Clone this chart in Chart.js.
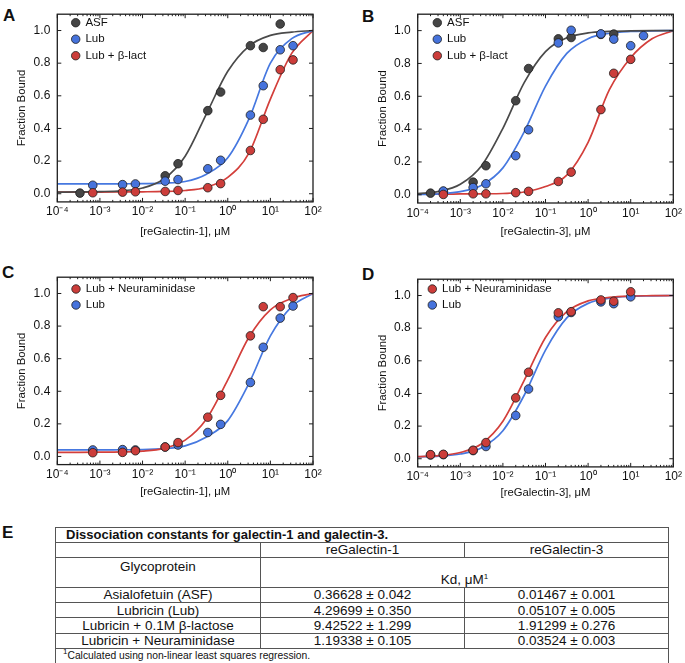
<!DOCTYPE html>
<html><head><meta charset="utf-8">
<script src="https://cdn.jsdelivr.net/npm/chart.js@4.4.1/dist/chart.umd.min.js"></script>
<style>
html,body{margin:0;padding:0;background:#fff;}
body{width:685px;height:663px;position:relative;overflow:hidden;font-family:"Liberation Sans",Arial,sans-serif;color:#111;}
canvas{position:absolute;}
.tag{position:absolute;font-weight:bold;font-size:17px;line-height:17px;color:#111;}
#tbl{position:absolute;left:55px;top:527px;width:613px;border-collapse:collapse;font-size:13.5px;table-layout:fixed;color:#111;}
#tbl td{border:1px solid #555;padding:0;text-align:center;vertical-align:middle;white-space:nowrap;line-height:13px;overflow:visible;}
#tbl td.ttl{text-align:left;font-weight:bold;font-size:13px;padding-left:10px;}
#tbl td.foot{text-align:left;font-size:10.3px;padding-left:7px;}
#tbl sup{font-size:8px;line-height:0;vertical-align:5px;}
</style></head>
<body>
<div class="tag" style="left:3px;top:7px">A</div>
<div class="tag" style="left:362px;top:8px">B</div>
<div class="tag" style="left:2px;top:264px">C</div>
<div class="tag" style="left:362px;top:266px">D</div>
<div class="tag" style="left:2px;top:524px">E</div>
<canvas id="cA"></canvas>
<canvas id="cB"></canvas>
<canvas id="cC"></canvas>
<canvas id="cD"></canvas>
<table id="tbl"></table>
<script>
// ---------- shared axis data ----------
const logTicks = [1e-4, 1e-3, 1e-2, 1e-1, 1, 10, 100];
const yTicks = [0, 0.2, 0.4, 0.6, 0.8, 1.0];
const fitX = [1e-4, 3.162e-4, 1e-3, 3.162e-3, 1e-2, 3.162e-2, 0.1, 0.3162, 1, 3.162, 10, 31.62, 100];

// ---------- Panel A: reGalectin-1 ----------
const concA_ASF = [0.00034, 0.034, 0.068, 0.34, 0.68, 3.4, 6.8, 17];
const aASF = [0.004, 0.11, 0.184, 0.509, 0.623, 0.907, 0.896, 1.04];
const concA = [0.00068, 0.0034, 0.0068, 0.034, 0.068, 0.34, 0.68, 3.4, 6.8, 17, 34];
const aLub = [0.052, 0.056, 0.06, 0.077, 0.087, 0.153, 0.205, 0.482, 0.662, 0.882, 0.907];
const aLact = [0.006, 0.01, 0.012, 0.014, 0.02, 0.037, 0.062, 0.265, 0.456, 0.76, 0.82];
const aFitASF = [0.010, 0.011, 0.013, 0.018, 0.035, 0.09, 0.23, 0.49, 0.75, 0.905, 0.97, 0.99, 1.0];
const aFitLub = [0.060, 0.060, 0.060, 0.061, 0.062, 0.065, 0.075, 0.12, 0.22, 0.46, 0.80, 0.95, 1.0];
const aFitLact = [0.010, 0.010, 0.010, 0.011, 0.012, 0.014, 0.02, 0.04, 0.10, 0.25, 0.58, 0.86, 1.0];

// ---------- Panel B: reGalectin-3 ----------
const concB_ASF = [0.0002, 0.0004, 0.002, 0.004, 0.02, 0.04, 0.2, 0.4, 2, 4];
const bASF = [0.01, 0.02, 0.077, 0.177, 0.573, 0.769, 0.95, 0.958, 0.977, 0.979];
const concB_Lub = [0.0004, 0.002, 0.004, 0.02, 0.04, 0.2, 0.4, 2, 4, 10, 20];
const bLub = [0.023, 0.044, 0.067, 0.238, 0.396, 0.925, 1.002, 0.98, 0.948, 0.908, 0.969];
const concB_Lact = [0.0004, 0.002, 0.004, 0.02, 0.04, 0.2, 0.4, 2, 4, 10];
const bLact = [0.002, 0.006, 0.006, 0.013, 0.021, 0.081, 0.138, 0.519, 0.74, 0.825];
const bFitASF = [0.007, 0.021, 0.064, 0.177, 0.405, 0.683, 0.872, 0.956, 0.986, 0.995, 0.999, 1.0, 1.0];
const bFitLub = [0.002, 0.006, 0.019, 0.058, 0.164, 0.383, 0.662, 0.861, 0.951, 0.984, 0.995, 0.998, 1.0];
const bFitLact = [0.004, 0.004, 0.005, 0.006, 0.008, 0.017, 0.05, 0.12, 0.32, 0.64, 0.835, 0.95, 1.0];

// ---------- Panel C: reGalectin-1, neuraminidase ----------
const concC = [0.00068, 0.0034, 0.0068, 0.034, 0.068, 0.34, 0.68, 3.4, 6.8, 17, 34];
const cNeur = [0.023, 0.025, 0.035, 0.058, 0.085, 0.241, 0.375, 0.74, 0.919, 0.919, 0.975];
const cLub = [0.04, 0.042, 0.04, 0.058, 0.07, 0.147, 0.197, 0.454, 0.67, 0.849, 0.923];
const cFitNeur = [0.025, 0.025, 0.026, 0.028, 0.033, 0.050, 0.10, 0.23, 0.47, 0.733, 0.90, 0.97, 1.0];
const cFitLub = [0.04, 0.04, 0.04, 0.041, 0.042, 0.048, 0.065, 0.12, 0.22, 0.45, 0.74, 0.92, 1.0];

// ---------- Panel D: reGalectin-3, neuraminidase ----------
const concD = [0.0002, 0.0004, 0.002, 0.004, 0.02, 0.04, 0.2, 0.4, 2, 4, 10];
const dNeur = [0.025, 0.027, 0.052, 0.099, 0.373, 0.53, 0.894, 0.901, 0.973, 0.965, 1.023];
const dLub = [0.023, 0.025, 0.05, 0.075, 0.265, 0.427, 0.87, 0.896, 0.961, 0.95, 0.992];
const dFitNeur = [0.013, 0.019, 0.038, 0.092, 0.23, 0.48, 0.743, 0.901, 0.967, 0.989, 0.997, 0.999, 1.0];
const dFitLub = [0.012, 0.016, 0.029, 0.068, 0.172, 0.389, 0.666, 0.863, 0.952, 0.984, 0.995, 0.998, 1.0];

// ---------- Panel E: table ----------
const tableTitle = 'Dissociation constants for galectin-1 and galectin-3.';
const colHeads = ['reGalectin-1', 'reGalectin-3'];
const glycoproteins = ['Asialofetuin (ASF)', 'Lubricin (Lub)', 'Lubricin + 0.1M β-lactose', 'Lubricin + Neuraminidase'];
const kdGal1 = ['0.36628 ± 0.042', '4.29699 ± 0.350', '9.42522 ± 1.299', '1.19338 ± 0.105'];
const kdGal3 = ['0.01467 ± 0.001', '0.05107 ± 0.005', '1.91299 ± 0.276', '0.03524 ± 0.003'];
const footnote = 'Calculated using non-linear least squares regression.';

// ---------- styling ----------
const COL = {
  gray: {fill: '#454545', line: '#4a4a4a'},
  blue: {fill: '#4673dc', line: '#4678e0'},
  red:  {fill: '#cc3d3a', line: '#d33f3b'}
};
Chart.defaults.font.family = '"Liberation Sans", Arial, sans-serif';
Chart.defaults.color = '#111';

const SUP = {'-': '\u207B', '0': '\u2070', '1': '\u00B9', '2': '\u00B2', '3': '\u00B3', '4': '\u2074'};
function expLabel(v) {
  const e = Math.round(Math.log10(v));
  return '10' + String(e).split('').map(c => SUP[c]).join('');
}

function pts(label, xs, ys, c, order) {
  return {label, data: xs.map((x, i) => ({x, y: ys[i]})), showLine: false,
    pointRadius: 4.3, pointHoverRadius: 4.3, pointBorderWidth: 0.8, pointStyle: 'circle',
    pointBackgroundColor: c.fill, pointBorderColor: '#1e1e1e',
    backgroundColor: c.fill, borderColor: '#1e1e1e', borderWidth: 0.8, order};
}
function fit(ys, c) {
  return {label: '', fit: true, data: fitX.map((x, i) => ({x, y: ys[i]})), showLine: true,
    pointRadius: 0, borderColor: c.line, borderWidth: 1.7, backgroundColor: c.line,
    cubicInterpolationMode: 'monotone', fill: false, order: 10};
}

const framePlugin = {
  id: 'frame',
  afterDatasetsDraw(chart) {
    const {ctx, chartArea: a, scales: {x, y}} = chart;
    ctx.save();
    ctx.strokeStyle = '#1e1e1e';
    ctx.lineWidth = 1;
    ctx.beginPath();
    for (const v of yTicks) {
      const py = y.getPixelForValue(v);
      ctx.moveTo(a.left, py); ctx.lineTo(a.left + 4, py);
      ctx.moveTo(a.right, py); ctx.lineTo(a.right - 4, py);
    }
    logTicks.forEach((base, d) => {
      const px = x.getPixelForValue(base);
      ctx.moveTo(px, a.bottom); ctx.lineTo(px, a.bottom - 4);
      ctx.moveTo(px, a.top); ctx.lineTo(px, a.top + 4);
      if (d < logTicks.length - 1) {
        for (let m = 2; m <= 9; m++) {
          const qx = x.getPixelForValue(base * m);
          ctx.moveTo(qx, a.bottom); ctx.lineTo(qx, a.bottom - 2);
          ctx.moveTo(qx, a.top); ctx.lineTo(qx, a.top + 2);
        }
      }
    });
    ctx.stroke();
    ctx.lineWidth = 1.3;
    ctx.strokeRect(a.left, a.top, a.width, a.height);
    ctx.restore();
  }
};

const legendShift = {
  id: 'legendShift',
  afterLayout(chart) {
    const o = chart.options.plugins.legendShift;
    if (chart.legend && o) { chart.legend.left = o.left; chart.legend.top = o.top; }
  }
};

const YW = 57, XH = 40, LEG_FS = 11.5, LEG_BW = 8, TICK_FS = 12;

function makePanel(id, box, datasets, xTitle) {
  const cl = Math.floor(box.L - YW), ct = Math.floor(box.T - 3);
  const cw = Math.ceil(box.R) + 27 - cl, ch = Math.ceil(box.B) + XH + 2 - ct;
  const cv = document.getElementById(id);
  cv.width = cw; cv.height = ch;
  cv.style.left = cl + 'px'; cv.style.top = ct + 'px';
  cv.style.width = cw + 'px'; cv.style.height = ch + 'px';
  const pad = {left: box.L - YW - cl, top: box.T - ct, right: cl + cw - box.R, bottom: ct + ch - box.B - XH};
  const lp = box.legPad;
  new Chart(cv, {
    type: 'scatter',
    data: {datasets},
    options: {
      responsive: false, animation: false, devicePixelRatio: 1,
      layout: {padding: pad},
      events: [],
      plugins: {
        tooltip: {enabled: false},
        legend: {
          position: 'chartArea', align: 'start',
          labels: {
            usePointStyle: true, pointStyle: 'circle', boxWidth: LEG_BW, boxHeight: 6,
            padding: lp, color: '#111', font: {size: LEG_FS},
            filter: (item, data) => !data.datasets[item.datasetIndex].fit,
            sort: (a, b) => a.datasetIndex - b.datasetIndex
          }
        },
        legendShift: {left: box.legX - cl - lp - LEG_BW / 2, top: box.legY - ct - lp - LEG_FS / 2}
      },
      scales: {
        x: {
          type: 'logarithmic', position: 'bottom', min: 1e-4, max: 100,
          afterBuildTicks: s => { s.ticks = logTicks.map(v => ({value: v})); },
          afterFit: s => { s.height = XH; },
          grid: {display: false, drawTicks: false},
          border: {display: false},
          ticks: {callback: v => expLabel(v), autoSkip: false, maxRotation: 0, minRotation: 0,
            padding: 3, color: '#111', font: {size: TICK_FS}},
          title: {display: true, text: xTitle, color: '#111', font: {size: 11.3, lineHeight: 1.2},
            padding: {top: 0, bottom: box.B + XH - 6.8 - box.xt}}
        },
        y: {
          type: 'linear', position: 'left', min: -0.05, max: 1.1,
          afterBuildTicks: s => { s.ticks = yTicks.map(v => ({value: v})); },
          afterFit: s => { s.width = YW; },
          grid: {display: false, drawTicks: false},
          border: {display: false},
          ticks: {callback: v => Number(v).toFixed(1), padding: 7, color: '#111', font: {size: TICK_FS}},
          title: {display: true, text: 'Fraction Bound', color: '#111', font: {size: 11.3, lineHeight: 1.2},
            padding: {top: box.yt - (box.L - YW) - 6.8, bottom: 0}}
        }
      }
    },
    plugins: [framePlugin, legendShift]
  });
}

makePanel('cA', {L: 57.3, T: 3.8, R: 313, B: 201.9, legX: 75.7, legY: 22.7, legPad: 5, yt: 21.7, xt: 231.7}, [
  pts('ASF', concA_ASF, aASF, COL.gray, 2),
  pts('Lub', concA, aLub, COL.blue, 1),
  pts('Lub + β-lact', concA, aLact, COL.red, 0),
  fit(aFitASF, COL.gray), fit(aFitLub, COL.blue), fit(aFitLact, COL.red)
], '[reGalectin-1], μM');

makePanel('cB', {L: 417.7, T: 3.7, R: 673.3, B: 203, legX: 437.3, legY: 22.7, legPad: 5, yt: 383.3, xt: 231.7}, [
  pts('ASF', concB_ASF, bASF, COL.gray, 2),
  pts('Lub', concB_Lub, bLub, COL.blue, 1),
  pts('Lub + β-lact', concB_Lact, bLact, COL.red, 0),
  fit(bFitASF, COL.gray), fit(bFitLub, COL.blue), fit(bFitLact, COL.red)
], '[reGalectin-3], μM');

makePanel('cC', {L: 57.3, T: 266, R: 313, B: 464.6, legX: 76, legY: 289, legPad: 4.5, yt: 21.7, xt: 491.7}, [
  pts('Lub + Neuraminidase', concC, cNeur, COL.red, 0),
  pts('Lub', concC, cLub, COL.blue, 1),
  fit(cFitNeur, COL.red), fit(cFitLub, COL.blue)
], '[reGalectin-1], μM');

makePanel('cD', {L: 417.7, T: 268.8, R: 673.3, B: 466.9, legX: 432.3, legY: 289, legPad: 4.5, yt: 383.3, xt: 492.7}, [
  pts('Lub + Neuraminidase', concD, dNeur, COL.red, 0),
  pts('Lub', concD, dLub, COL.blue, 1),
  fit(dFitNeur, COL.red), fit(dFitLub, COL.blue)
], '[reGalectin-3], μM');

// ---------- build table ----------
(function buildTable() {
  const t = document.getElementById('tbl');
  let h = '<colgroup><col style="width:205px"><col style="width:204px"><col style="width:204px"></colgroup>';
  h += '<tr style="height:14.5px"><td colspan="3" class="ttl">' + tableTitle + '</td></tr>';
  h += '<tr style="height:15px"><td></td><td>' + colHeads[0] + '</td><td>' + colHeads[1] + '</td></tr>';
  h += '<tr style="height:30px"><td style="vertical-align:top;padding-top:2px">Glycoprotein</td>' +
       '<td colspan="2" style="vertical-align:bottom;padding-bottom:1px">Kd, μM<sup>1</sup></td></tr>';
  glycoproteins.forEach((g, i) => {
    h += '<tr style="height:15.4px"><td>' + g + '</td><td>' + kdGal1[i] + '</td><td>' + kdGal3[i] + '</td></tr>';
  });
  h += '<tr style="height:14.5px"><td colspan="3" class="foot"><sup>1</sup>' + footnote + '</td></tr>';
  t.innerHTML = h;
})();
</script>
</body></html>
